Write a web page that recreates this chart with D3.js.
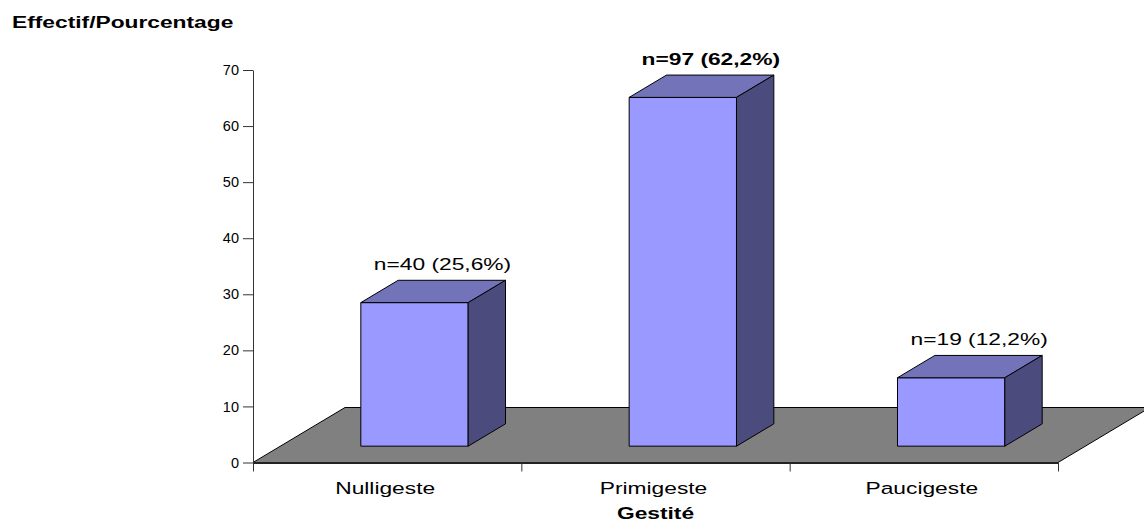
<!DOCTYPE html>
<html>
<head>
<meta charset="utf-8">
<script src="https://cdn.jsdelivr.net/npm/d3@7"></script>
<style>
  html, body { margin: 0; padding: 0; background: #fff; }
  svg { display: block; font-family: "Liberation Sans", Arial, sans-serif; }
</style>
</head>
<body>
<svg id="chart" width="1144" height="521"></svg>
<script>
// Gestité : effectifs et pourcentages
const categories = ["Nulligeste", "Primigeste", "Paucigeste"];
const counts = [40, 97, 19];
const percents = [25.6, 62.2, 12.2];
const yTicks = [0, 10, 20, 30, 40, 50, 60, 70];
const yTitle = "Effectif/Pourcentage";
const xTitle = "Gestité";

const svg = d3.select("#chart");

// plot frame (front plane of the 3D box)
const plotLeft = 253, plotRight = 1058, plotTop = 70, plotBase = 462.5;
// oblique depth of the floor
const DX = 92, DY = 55;
// bar depth occupies the middle of the floor depth
const d0 = 0.297, d1 = 0.703;
const STRETCH = 1.34;

const y = d3.scaleLinear().domain([0, 70]).range([plotBase, plotTop]);
const x = d3.scaleBand().domain(categories).range([plotLeft, plotRight])
  .paddingInner(0.6).paddingOuter(0.3);
const xEdge = d3.scaleLinear().domain([0, categories.length]).range([plotLeft, plotRight]);

// projection: screen x, depth fraction d, value v
const P = (px, d, v) => [px + d * DX, y(v) - d * DY];

// floor
const floor = [P(plotLeft, 0, 0), P(plotRight, 0, 0), P(plotRight, 1, 0), P(plotLeft, 1, 0)];
svg.append("polygon")
  .attr("points", floor.map(p => p.join(",")).join(" "))
  .attr("fill", "#808080")
  .attr("stroke", "#000")
  .attr("stroke-width", 1);

// y axis
const yAxis = svg.append("g")
  .attr("transform", `translate(${plotLeft},0)`)
  .call(d3.axisLeft(y).tickValues(yTicks).tickSize(10).tickPadding(4).tickSizeOuter(0));
yAxis.select(".domain").attr("stroke", "#333");
yAxis.selectAll(".tick line").attr("stroke", "#333");
yAxis.selectAll(".tick text")
  .attr("font-size", 14.5)
  .attr("font-family", "Liberation Sans, Arial, sans-serif")
  .attr("fill", "#000");

// x axis (category boundaries)
const xAxis = svg.append("g")
  .attr("transform", `translate(0,${plotBase})`)
  .call(d3.axisBottom(xEdge).tickValues(d3.range(categories.length + 1))
    .tickFormat("").tickSize(9).tickSizeOuter(0));
xAxis.select(".domain").attr("stroke", "#222").attr("stroke-width", 2);
xAxis.selectAll(".tick line").attr("stroke", "#333");

// bars
const maxVal = d3.max(percents);
const bars = svg.append("g").selectAll("g").data(categories).join("g");
bars.each(function (c, i) {
  const g = d3.select(this);
  const v = percents[i];
  const x0 = x(c), x1 = x(c) + x.bandwidth();
  const poly = (pts, fill) => g.append("polygon")
    .attr("points", pts.map(p => p.join(",")).join(" "))
    .attr("fill", fill).attr("stroke", "#000").attr("stroke-width", 1)
    .attr("stroke-linejoin", "round");
  // front face
  poly([P(x0, d0, 0), P(x1, d0, 0), P(x1, d0, v), P(x0, d0, v)], "#9999ff");
  // top face
  poly([P(x0, d0, v), P(x1, d0, v), P(x1, d1, v), P(x0, d1, v)], "#7373b9");
  // side face
  poly([P(x1, d0, 0), P(x1, d1, 0), P(x1, d1, v), P(x1, d0, v)], "#4b4b7e");

  const [lx] = P((x0 + x1) / 2, d0, v);
  const [, ly] = P(x0, d1, v);
  const label = `n=${counts[i]} (${d3.format(".1f")(v).replace(".", ",")}%)`;
  g.append("text")
    .attr("transform", `translate(${lx + 28},${ly - 10}) scale(${STRETCH},1)`)
    .attr("text-anchor", "middle")
    .attr("font-size", 17)
    .attr("font-weight", v === maxVal ? "bold" : "normal")
    .attr("fill", "#000")
    .text(label);
});

// category labels
svg.append("g").selectAll("text").data(categories).join("text")
  .attr("transform", c => `translate(${x(c) + x.bandwidth() / 2 - 2},${plotBase + 31}) scale(${STRETCH},1)`)
  .attr("text-anchor", "middle")
  .attr("font-size", 17)
  .attr("fill", "#000")
  .text(c => c);

// axis titles
svg.append("text")
  .attr("transform", `translate(${(plotLeft + plotRight) / 2},${plotBase + 56}) scale(${STRETCH},1)`)
  .attr("text-anchor", "middle")
  .attr("font-size", 17)
  .attr("font-weight", "bold")
  .attr("fill", "#000")
  .text(xTitle);

svg.append("text")
  .attr("transform", `translate(12,28) scale(${STRETCH},1)`)
  .attr("font-size", 17)
  .attr("font-weight", "bold")
  .attr("fill", "#000")
  .text(yTitle);
</script>
</body>
</html>
